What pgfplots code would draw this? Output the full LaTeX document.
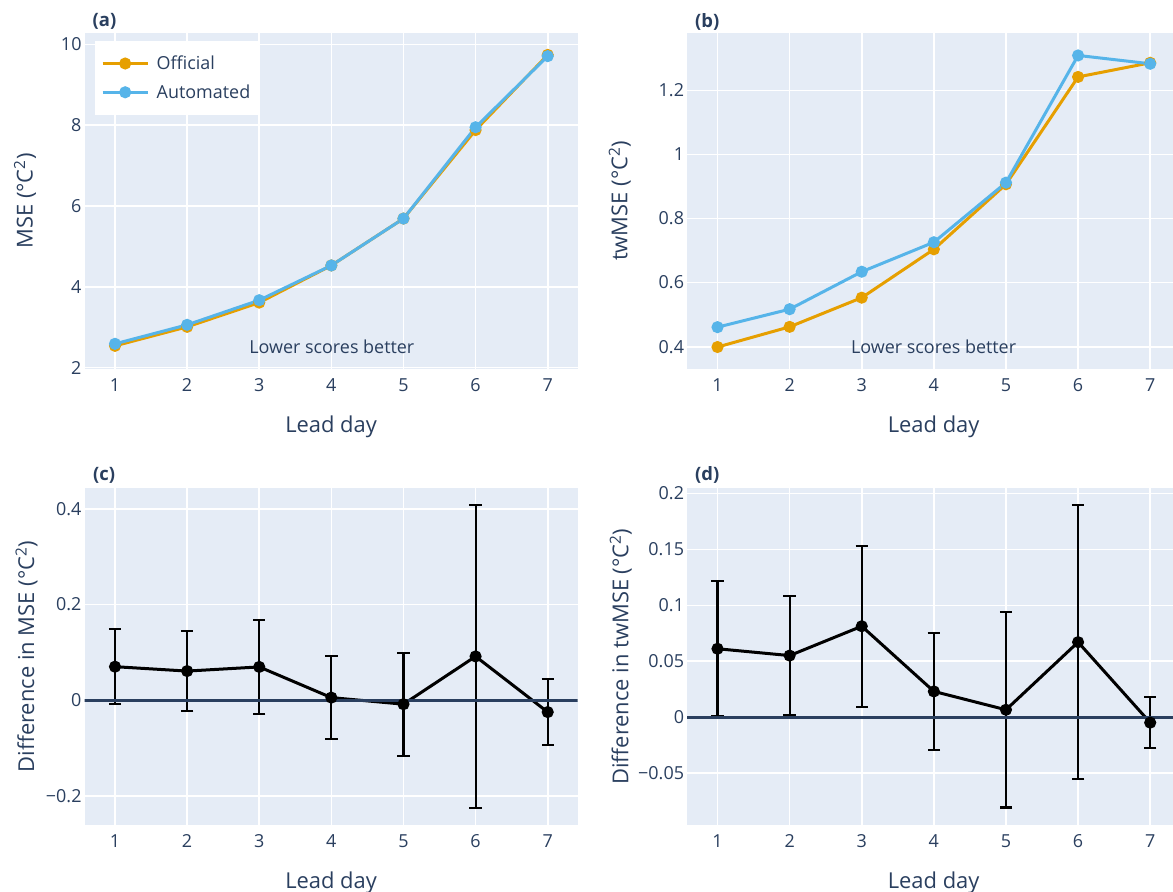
\documentclass[border=0pt]{standalone}
\usepackage{fontspec}
\setmainfont{Open Sans}
\usepackage{pgfplots}
\pgfplotsset{compat=1.18}
\usepackage{pgfplotstable}
\definecolor{bgc}{HTML}{E5ECF6}
\definecolor{txt}{HTML}{2A3F5F}
\definecolor{offc}{HTML}{E69F00}
\definecolor{autc}{HTML}{56B4E9}

\pgfplotstableread{
x off aut
1 2.54 2.59
2 3.01 3.06
3 3.61 3.67
4 4.53 4.53
5 5.69 5.69
6 7.88 7.95
7 9.74 9.71
}\msetab

\pgfplotstableread{
x off aut
1 0.399 0.461
2 0.462 0.517
3 0.553 0.634
4 0.704 0.726
5 0.907 0.912
6 1.242 1.309
7 1.286 1.283
}\twtab

\pgfplotstableread{
x y e
1 0.0700 0.0780
2 0.0608 0.0830
3 0.0695 0.0985
4 0.0053 0.0867
5 -0.0085 0.1075
6 0.0915 0.3165
7 -0.0250 0.0690
}\dmsetab

\pgfplotstableread{
x y e
1 0.0612 0.0603
2 0.0551 0.0533
3 0.0813 0.0718
4 0.0231 0.0521
5 0.0067 0.0873
6 0.0671 0.1221
7 -0.0048 0.0228
}\dtwtab

\pgfplotsset{
  plotly/.style={
    scale only axis, width=493.2bp, height=336.6bp,
    xmin=0.577, xmax=7.416,
    axis background/.style={fill=bgc},
    axis line style={draw=none},
    major tick length=0pt,
    grid=major, major grid style={white, line width=1.6bp},
    xtick={1,2,3,4,5,6,7},
    xticklabels={1,2,3,4,5,6,7},
    tick label style={font=\fontsize{18}{20}\selectfont, text=txt},
    xticklabel style={anchor=north, inner sep=0pt, yshift=-9bp},
    yticklabel style={anchor=east, inner sep=0pt, xshift=-2.8bp},
  },
  scoreline/.style={line width=3bp, mark=*, mark size=4.5bp, mark options={solid}},
  diffline/.style={black, line width=3bp, mark=*, mark size=4.5bp, mark options={solid, fill=black},
    error bars/.cd, y dir=both, y explicit,
    error mark=-,
    error bar style={line width=2.1bp, black},
    error mark options={rotate=90, line width=2.1bp, mark size=6.2bp, black}},
}

\begin{document}
\begin{tikzpicture}
\useasboundingbox (0,0) rectangle (1173bp,892bp);
\fill[white] (0,0) rectangle (1173bp,892bp);

% (a)
\begin{axis}[plotly, at={(84.5bp,522.7bp)}, anchor=south west,
  ymin=1.96, ymax=10.29, ytick={2,4,6,8,10}, yticklabels={2,4,6,8,10},
  legend style={at={(0.0213,0.9762)}, anchor=north west, fill=white, draw=none,
    font=\fontsize{18}{20}\selectfont, text=txt, inner xsep=6bp, inner ysep=13bp,
    row sep=9.6bp, nodes={inner sep=2bp},
    /tikz/every odd column/.append style={column sep=5.5bp}},
  legend cell align=left,
  legend image code/.code={\draw[mark repeat=2,mark phase=2] plot coordinates {(0bp,0bp) (22.5bp,0bp) (45bp,0bp)};},
]
\addplot[scoreline, color=offc] table[x=x,y=off] {\msetab};
\addlegendentry{Official}
\addplot[scoreline, color=autc] table[x=x,y=aut] {\msetab};
\addlegendentry{Automated}
\end{axis}

% (b)
\begin{axis}[plotly, at={(687bp,522.7bp)}, anchor=south west,
  ymin=0.3295, ymax=1.38, ytick={0.4,0.6,0.8,1,1.2}, yticklabels={0.4,0.6,0.8,1,1.2}]
\addplot[scoreline, color=offc] table[x=x,y=off] {\twtab};
\addplot[scoreline, color=autc] table[x=x,y=aut] {\twtab};
\end{axis}

% (c)
\begin{axis}[plotly, at={(84.5bp,67bp)}, anchor=south west, height=336.7bp,
  ymin=-0.2613, ymax=0.4433, ytick={-0.2,0,0.2,0.4}, yticklabels={−0.2,0,0.2,0.4}]
\addplot[diffline] table[x=x,y=y,y error=e] {\dmsetab};
\addplot[color=txt, line width=2.8bp, forget plot] coordinates {(0,0) (8,0)};
\end{axis}

% (d)
\begin{axis}[plotly, at={(687bp,67bp)}, anchor=south west, height=336.7bp,
  ymin=-0.0962, ymax=0.2045, ytick={-0.05,0,0.05,0.1,0.15,0.2}, yticklabels={−0.05,0,0.05,0.1,0.15,0.2}]
\addplot[diffline] table[x=x,y=y,y error=e] {\dtwtab};
\addplot[color=txt, line width=2.8bp, forget plot] coordinates {(0,0) (8,0)};
\end{axis}

% texts
\begin{scope}[every node/.style={text=txt, inner sep=0pt}]
\node[anchor=west, font=\fontsize{18.5}{20}\selectfont\bfseries] at (92.5bp,870.3bp) {(a)};
\node[anchor=west, font=\fontsize{18.5}{20}\selectfont\bfseries] at (695bp,870.3bp) {(b)};
\node[anchor=west, font=\fontsize{18.5}{20}\selectfont\bfseries] at (93bp,417bp) {(c)};
\node[anchor=west, font=\fontsize{18.5}{20}\selectfont\bfseries] at (695bp,417bp) {(d)};

\node[anchor=base, font=\fontsize{22}{24}\selectfont] at (331.1bp,459.4bp) {Lead day};
\node[anchor=base, font=\fontsize{22}{24}\selectfont] at (933.6bp,459.4bp) {Lead day};
\node[anchor=base, font=\fontsize{22}{24}\selectfont] at (331.1bp,3.7bp) {Lead day};
\node[anchor=base, font=\fontsize{22}{24}\selectfont] at (933.6bp,3.7bp) {Lead day};

\node[anchor=base, rotate=90, font=\fontsize{22}{24}\selectfont] at (32.7bp,691bp) {MSE (°C\textsuperscript{2})};
\node[anchor=base, rotate=90, font=\fontsize{22}{24}\selectfont] at (627.3bp,691bp) {twMSE (°C\textsuperscript{2})};
\node[anchor=base, rotate=90, font=\fontsize{22}{24}\selectfont] at (34bp,235.4bp) {Difference in MSE (°C\textsuperscript{2})};
\node[anchor=base, rotate=90, font=\fontsize{22}{24}\selectfont] at (628.3bp,235.4bp) {Difference in twMSE (°C\textsuperscript{2})};

\node[anchor=base, font=\fontsize{18}{20}\selectfont] at (331.8bp,538.7bp) {Lower scores better};
\node[anchor=base, font=\fontsize{18}{20}\selectfont] at (933.6bp,538.7bp) {Lower scores better};
\end{scope}
\end{tikzpicture}
\end{document}
